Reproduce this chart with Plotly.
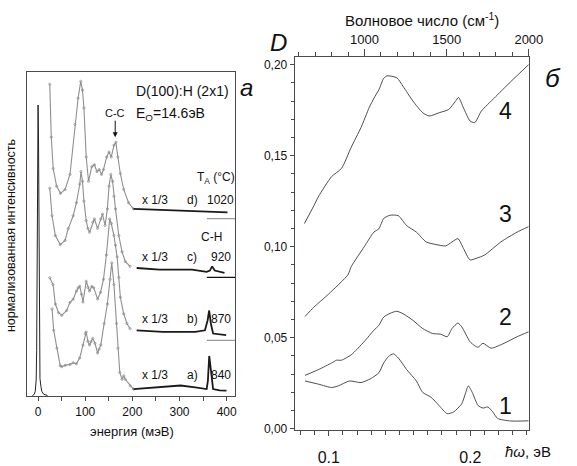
import plotly.graph_objects as go

W, H = 577, 466
FONT = "Liberation Sans, Arial, sans-serif"

# ---------------- panel (а): HREELS spectra, D(100):H (2x1) ----------------
# elastic peak
el_E = [-12, -8, -6, -4, -3, -2, -1, 0, 1, 2, 3, 4, 6, 8, 12, 20]
el_I = [0.02, 0.06, 0.15, 0.5, 1.4, 4.2, 7.8, 8.97, 7.8, 4.2, 1.4, 0.55, 0.3, 0.15, 0.06, 0.02]

# a) 840 °C
a_E = [29.6, 33.1, 40.0, 47.0, 50.3, 57.3, 67.7, 74.5, 81.4, 88.4, 95.2, 100.0, 102.1, 105.6,
       109.1, 112.4, 115.9, 120.7, 126.3, 129.4, 133.1, 140.2, 147.0, 152.6, 156.3, 160.9,
       166.3, 169.2, 173.3, 178.1, 181.6, 184.9, 195.2, 202.3, 219.5, 264.4, 302.3, 333.3,
       357.6, 360.2, 363.0, 366.5, 371.2, 385.1, 399.6]
a_I = [2.69, 2.03, 1.48, 0.94, 0.91, 0.95, 0.98, 1.03, 1.00, 1.18, 1.57, 1.93, 1.98, 1.69,
       1.58, 1.68, 1.78, 1.63, 1.33, 1.45, 1.58, 2.24, 2.84, 3.60, 4.11, 3.44,
       2.24, 1.48, 0.73, 0.52, 0.63, 0.52, 0.32, 0.22, 0.24, 0.30, 0.33, 0.27,
       0.22, 0.48, 1.24, 0.82, 0.22, 0.18, 0.17]

# b) 870 °C
b_E = [24.8, 31.7, 36.6, 43.5, 50.3, 60.7, 67.7, 74.5, 81.4, 84.9, 88.4, 92.1, 95.2, 102.1,
       105.6, 109.1, 113.9, 118.0, 126.3, 132.5, 138.7, 144.9, 151.8, 155.3, 160.9, 164.2,
       167.7, 171.2, 174.5, 181.6, 188.4, 195.2, 209.1, 264.4, 333.3, 354.0, 359.6, 362.9,
       366.5, 371.2, 399.0]
b_I = [3.65, 3.44, 2.84, 2.57, 2.49, 2.64, 2.89, 2.99, 3.24, 3.34, 3.39, 3.14, 2.90, 3.54,
       3.35, 3.24, 3.38, 3.34, 2.99, 3.20, 3.60, 4.35, 5.46, 5.32, 4.95, 4.65,
       4.29, 3.66, 3.05, 2.54, 2.24, 2.08, 2.03, 1.98, 1.98, 2.03, 2.34, 2.64,
       2.24, 1.93, 1.88]

# c) 920 °C
c_E = [24.8, 29.6, 36.6, 47.0, 57.3, 64.2, 74.5, 81.4, 88.4, 91.1, 94.2, 97.3, 102.1, 105.6,
       109.1, 115.9, 119.5, 126.3, 133.1, 136.6, 142.2, 147.0, 150.5, 154.2, 158.0, 160.9,
       164.2, 171.2, 178.1, 184.9, 195.2, 209.1, 257.4, 326.5, 357.6, 364.4, 369.2, 374.7, 395.4]
c_I = [6.41, 5.56, 4.95, 4.67, 4.80, 5.17, 5.56, 5.96, 6.53, 6.92, 6.62, 6.01, 5.41, 5.17,
       5.05, 5.36, 5.46, 5.17, 5.46, 5.61, 5.26, 5.77, 6.47, 6.83, 6.62, 6.16,
       5.77, 4.95, 4.45, 4.15, 4.00, 3.95, 3.90, 3.90, 3.83, 3.87, 4.00, 3.87, 3.80]

# d) 1020 °C
d_E = [24.8, 28.0, 32.1, 39.3, 47.6, 57.3, 67.7, 78.1, 84.9, 90.5, 94.2, 97.3, 102.1, 107.0,
       113.9, 119.5, 124.8, 129.8, 134.6, 138.7, 145.5, 150.5, 155.3, 160.9, 165.0, 169.2,
       174.5, 181.6, 191.9, 202.3, 264.4, 333.3, 401.7]
d_I = [9.61, 7.98, 7.01, 6.47, 6.25, 6.37, 6.83, 8.37, 9.18, 9.70, 9.43, 8.88, 7.37, 6.62,
       7.07, 7.13, 6.92, 6.98, 6.83, 6.98, 7.37, 7.52, 7.37, 7.73, 7.82, 7.37,
       6.86, 6.37, 5.96, 5.77, 5.74, 5.71, 5.66]

spectra = [("a)", "840", a_E, a_I), ("b)", "870", b_E, b_I),
           ("c)", "920", c_E, c_I), ("d)", "1020", d_E, d_I)]
# part of each spectrum shown in the "x 1/3" scale
SCALE_CUT = 200.0
# short reference levels at the right edge
ref_levels = [5.47, 3.66, 1.72]
ref_colors = ["#9a9a9a", "#111111", "#9a9a9a"]
REF_FROM = 358.0

E_RANGE = [-22.8, 418.0]
I_RANGE = [0.0, 10.0]

# ---------------- panel (б): absorbance spectra 1-4 ----------------
c1_x = [0.0832, 0.0929, 0.1021, 0.1067, 0.1147, 0.1228, 0.1297, 0.1354, 0.1388, 0.1423,
        0.1457, 0.1492, 0.1550, 0.1619, 0.1664, 0.1722, 0.1779, 0.1837, 0.1883, 0.1940,
        0.1968, 0.1986, 0.2014, 0.2055, 0.2090, 0.2124, 0.2159, 0.2193, 0.2285, 0.2412]
c1_y = [0.0262, 0.0244, 0.0226, 0.0235, 0.0262, 0.0253, 0.0275, 0.0307, 0.0361, 0.0397,
        0.0411, 0.0388, 0.0325, 0.0262, 0.0199, 0.0173, 0.0127, 0.0082, 0.0092, 0.0137,
        0.0199, 0.0235, 0.0199, 0.0127, 0.0113, 0.0119, 0.0092, 0.0056, 0.0042, 0.0043]

c2_x = [0.0832, 0.0929, 0.1021, 0.1055, 0.1090, 0.1159, 0.1250, 0.1319, 0.1354, 0.1388,
        0.1434, 0.1481, 0.1526, 0.1595, 0.1664, 0.1733, 0.1791, 0.1837, 0.1871, 0.1913,
        0.1940, 0.1998, 0.2032, 0.2055, 0.2090, 0.2147, 0.2239, 0.2331, 0.2412]
c2_y = [0.0293, 0.0325, 0.0361, 0.0376, 0.0376, 0.0406, 0.0478, 0.0541, 0.0568, 0.0613,
        0.0634, 0.0645, 0.0631, 0.0595, 0.0550, 0.0523, 0.0519, 0.0505, 0.0550, 0.0580,
        0.0559, 0.0478, 0.0455, 0.0447, 0.0469, 0.0442, 0.0469, 0.0505, 0.0532]

c3_x = [0.0832, 0.0894, 0.0998, 0.1136, 0.1159, 0.1250, 0.1319, 0.1354, 0.1388, 0.1434,
        0.1492, 0.1550, 0.1619, 0.1688, 0.1757, 0.1826, 0.1871, 0.1913, 0.1952, 0.1998,
        0.2043, 0.2101, 0.2216, 0.2331, 0.2412]
c3_y = [0.0616, 0.0667, 0.0739, 0.0846, 0.0891, 0.0999, 0.1080, 0.1098, 0.1155, 0.1173,
        0.1170, 0.1116, 0.1080, 0.1026, 0.1012, 0.1004, 0.1026, 0.1044, 0.0990, 0.0927,
        0.0936, 0.0954, 0.1026, 0.1080, 0.1110]

c4_x = [0.0828, 0.0894, 0.0929, 0.1020, 0.1090, 0.1159, 0.1228, 0.1285, 0.1320, 0.1354,
        0.1388, 0.1412, 0.1481, 0.1526, 0.1595, 0.1664, 0.1710, 0.1780, 0.1848, 0.1894,
        0.1917, 0.1952, 0.1998, 0.2032, 0.2078, 0.2170, 0.2285, 0.2412]
c4_y = [0.1127, 0.1224, 0.1278, 0.1385, 0.1430, 0.1547, 0.1655, 0.1763, 0.1817, 0.1862,
        0.1925, 0.1939, 0.1928, 0.1880, 0.1800, 0.1736, 0.1718, 0.1736, 0.1754, 0.1798,
        0.1820, 0.1763, 0.1691, 0.1682, 0.1745, 0.1817, 0.1906, 0.2000]

curves = [("1", c1_x, c1_y), ("2", c2_x, c2_y), ("3", c3_x, c3_y), ("4", c4_x, c4_y)]

EV_RANGE = [0.0759, 0.2414]
WN_RANGE = [575.0, 2000.0]
D_RANGE = [-0.0005, 0.2043]
d_ticks = [0.0, 0.05, 0.10, 0.15, 0.20]
d_ticktext = ["0,00", "0,05", "0,10", "0,15", "0,20"]
ev_ticks = [0.1, 0.2]
ev_ticktext = ["0.1", "0.2"]
wn_ticks = [1000, 1500, 2000]

fig = go.Figure()

# panel а traces
fig.add_trace(go.Scatter(x=el_E, y=el_I, mode="lines", xaxis="x", yaxis="y",
                         line=dict(color="#222222", width=1), showlegend=False))
for tag, temp, E, I in spectra:
    lo = [(e, v) for e, v in zip(E, I) if e <= SCALE_CUT + 3]
    hi = [(e, v) for e, v in zip(E, I) if e >= SCALE_CUT - 3]
    fig.add_trace(go.Scatter(x=[p[0] for p in lo], y=[p[1] for p in lo], mode="lines+markers",
                             xaxis="x", yaxis="y", showlegend=False,
                             line=dict(color="#8f8f8f", width=1.1),
                             marker=dict(symbol="circle-open", size=2.2, color="#8a8a8a",
                                         line=dict(width=0.7))))
    fig.add_trace(go.Scatter(x=[p[0] for p in hi], y=[p[1] for p in hi], mode="lines",
                             xaxis="x", yaxis="y", showlegend=False,
                             line=dict(color="#1a1a1a", width=1.8)))
for lvl, col in zip(ref_levels, ref_colors):
    fig.add_trace(go.Scatter(x=[REF_FROM, E_RANGE[1]], y=[lvl, lvl], mode="lines",
                             xaxis="x", yaxis="y", showlegend=False,
                             line=dict(color=col, width=1.2)))

# panel б traces
for name, xs, ys in curves:
    fig.add_trace(go.Scatter(x=xs, y=ys, mode="lines", xaxis="x2", yaxis="y2",
                             showlegend=False, line=dict(color="#3a3a3a", width=0.9,
                                                         shape="spline", smoothing=0.6)))
# invisible trace to activate the wavenumber axis
fig.add_trace(go.Scatter(x=WN_RANGE, y=[None, None], xaxis="x3", yaxis="y2",
                         mode="lines", showlegend=False, hoverinfo="skip"))

AX = dict(showgrid=False, zeroline=False, showline=True, linecolor="#4a4a4a",
          linewidth=1, tickcolor="#4a4a4a", mirror=True)

fig.update_layout(
    width=W, height=H, margin=dict(l=0, r=0, t=0, b=0),
    paper_bgcolor="white", plot_bgcolor="white",
    font=dict(family=FONT, color="#111111", size=12),
    xaxis=dict(AX, domain=[28 / W, 241 / W], range=E_RANGE, anchor="y",
               tick0=0, dtick=100, ticks="outside", ticklen=4, tickfont=dict(size=12),
               minor=dict(dtick=50, tick0=0, ticks="outside", ticklen=4,
                          tickcolor="#4a4a4a")),
    yaxis=dict(AX, domain=[1 - 404 / H, 1 - 73 / H], range=I_RANGE, anchor="x",
               showticklabels=False, ticks=""),
    xaxis2=dict(AX, domain=[302 / W, 542 / W], range=EV_RANGE, anchor="y2",
                tickmode="array", tickvals=ev_ticks, ticktext=ev_ticktext,
                ticks="outside", ticklen=5, tickfont=dict(size=16),
                ticklabelstandoff=8,
                minor=dict(dtick=0.01, tick0=0, ticks="outside", ticklen=4,
                           tickcolor="#4a4a4a")),
    xaxis3=dict(AX, domain=[302 / W, 542 / W], range=WN_RANGE, anchor="y2",
                overlaying="x2", side="top", mirror=False,
                tickmode="array", tickvals=wn_ticks, ticks="outside", ticklen=7,
                tickfont=dict(size=13),
                minor=dict(dtick=100, tick0=0, ticks="outside", ticklen=4,
                           tickcolor="#4a4a4a")),
    yaxis2=dict(AX, domain=[1 - 438 / H, 1 - 58 / H], range=D_RANGE, anchor="x2",
                tickmode="array", tickvals=d_ticks, ticktext=d_ticktext,
                ticks="outside", ticklen=4, tickfont=dict(size=12),
                minor=dict(dtick=0.01, tick0=0, ticks="outside", ticklen=3,
                           tickcolor="#4a4a4a")),
)


def note(text, px, py, size=12, xanchor="center", italic=False, **kw):
    if italic:
        text = "<i>" + text + "</i>"
    fig.add_annotation(text=text, x=px / W, y=1 - py / H, xref="paper", yref="paper",
                       showarrow=False, xanchor=xanchor, yanchor="middle",
                       font=dict(family=FONT, size=size, color="#111111"), **kw)


# panel а labels
note("D(100):H (2x1)", 137, 93, size=14, xanchor="left")
note("E<sub>O</sub>=14.6эВ", 137, 116, size=14, xanchor="left")
note("а", 253, 89, size=24, italic=True)
note("T<sub>A</sub> (°C)", 221, 181, size=12)
note("C-H", 217, 242, size=12)
rows_y = {"d)": 204, "c)": 262, "b)": 325, "a)": 382}
for tag, temp, E, I in spectra:
    y = rows_y[tag]
    note("x 1/3", 159, y, size=12)
    note(tag, 197, y, size=12)
    note(temp, 226, y, size=12)
note("энергия (мэВ)", 135, 440, size=13)
note("нормализованная интенсивность", 12, 240, size=12.5, textangle=-90)

# C-C arrow
fig.add_annotation(text="C-C", x=163.6, y=7.98, xref="x", yref="y", showarrow=True,
                   ax=0, ay=-24, arrowhead=2, arrowsize=1, arrowwidth=1,
                   arrowcolor="#111111", font=dict(family=FONT, size=11, color="#111111"))

# panel б labels
note("Волновое число (см<sup>-1</sup>)", 433, 20, size=15)
note("D", 285, 43, size=24, italic=True)
note("б", 567, 80, size=26, italic=True)
for name, py in zip(["4", "3", "2", "1"], [113, 218, 323, 414]):
    note(name, 518, py, size=23)
note("<i>ħω</i>, эВ", 541, 460, size=15)

fig.write_html("out.html")
